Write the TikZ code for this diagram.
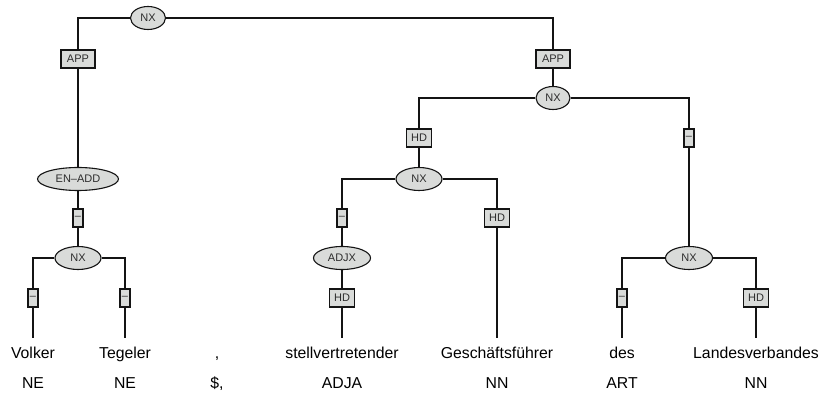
\documentclass[tikz,border=0pt]{standalone}
\usepackage{fontspec}
\setmainfont{Liberation Sans}
\usetikzlibrary{positioning,shapes.geometric,backgrounds}
\definecolor{ink}{RGB}{20,20,20}
\definecolor{lbltxt}{RGB}{45,45,45}
\definecolor{catfill}{RGB}{217,219,217}
\tikzset{
  cat/.style={ellipse,draw=ink,fill=catfill,line width=1.1pt,minimum height=23pt,
    inner sep=0pt,text=lbltxt,font=\fontsize{11}{13}\selectfont},
  fnc/.style={rectangle,draw=ink,fill=catfill,line width=1.5pt,minimum height=18pt,
    inner sep=0pt,text=lbltxt,font=\fontsize{11}{13}\selectfont},
  word/.style={anchor=north,inner xsep=2pt,inner ysep=8.5pt,text height=11.5pt,
    text depth=3.5pt,font=\fontsize{15.8}{18}\selectfont},
  postag/.style={anchor=base,inner sep=0pt,font=\fontsize{15.8}{18}\selectfont},
  br/.style={line width=1.3pt,draw=ink},
}

\begin{document}
\begin{tikzpicture}[x=1pt,y=-1pt]
\useasboundingbox (0,0) rectangle (822,398);
% inner nodes
\node[cat,minimum width=35pt] (nxtop) at (148,18) {NX};
\node[fnc,minimum width=34pt] (appL) at (78,59) {APP};
\node[cat,minimum width=81pt] (enadd) at (78,179) {EN--ADD};
\node[fnc,minimum width=10pt] (dL) at (78,218) {--};
\node[cat,minimum width=46pt] (nxL) at (78,258) {NX};
\node[fnc,minimum width=10pt] (dVo) at (33,298) {--};
\node[fnc,minimum width=10pt] (dTe) at (125,298) {--};
\node[fnc,minimum width=34pt] (appR) at (553,59) {APP};
\node[cat,minimum width=34pt] (nxR) at (553,98) {NX};
\node[fnc,minimum width=25pt] (hdM) at (419,138) {HD};
\node[cat,minimum width=46pt] (nxM) at (419,179) {NX};
\node[fnc,minimum width=10pt] (dSt) at (342,218) {--};
\node[cat,minimum width=57pt] (adjx) at (342,258) {ADJX};
\node[fnc,minimum width=25pt] (hdSt) at (342,298) {HD};
\node[fnc,minimum width=25pt] (hdGe) at (497,218) {HD};
\node[fnc,minimum width=10pt] (dDes) at (689,138) {--};
\node[cat,minimum width=47pt] (nxD) at (689,258) {NX};
\node[fnc,minimum width=10pt] (dDe) at (622,298) {--};
\node[fnc,minimum width=25pt] (hdLa) at (756,298) {HD};
% words and tags
\node[word] (w1) at (33,338) {Volker};
\node[word] (w2) at (125,338) {Tegeler};
\node[word] (w3) at (217,338) {,};
\node[word] (w4) at (342,338) {stellvertretender};
\node[word] (w5) at (497,338) {Geschäftsführer};
\node[word] (w6) at (622,338) {des};
\node[word] (w7) at (756,338) {Landesverbandes};
\node[postag] (t1) at (33,388) {NE};
\node[postag] (t2) at (125,388) {NE};
\node[postag] (t3) at (217,388) {\$,};
\node[postag] (t4) at (342,388) {ADJA};
\node[postag] (t5) at (497,388) {NN};
\node[postag] (t6) at (622,388) {ART};
\node[postag] (t7) at (756,388) {NN};
% branches
\begin{scope}[on background layer]
\draw[br] (nxtop) -| (appL);
\draw[br] (nxtop) -| (appR);
\draw[br] (appL) -- (enadd);
\draw[br] (enadd) -- (dL);
\draw[br] (dL) -- (nxL);
\draw[br] (nxL) -| (dVo);
\draw[br] (nxL) -| (dTe);
\draw[br] (dVo) -- (w1);
\draw[br] (dTe) -- (w2);
\draw[br] (appR) -- (nxR);
\draw[br] (nxR) -| (hdM);
\draw[br] (nxR) -| (dDes);
\draw[br] (hdM) -- (nxM);
\draw[br] (nxM) -| (dSt);
\draw[br] (nxM) -| (hdGe);
\draw[br] (dSt) -- (adjx);
\draw[br] (adjx) -- (hdSt);
\draw[br] (hdSt) -- (w4);
\draw[br] (hdGe) -- (w5);
\draw[br] (dDes) -- (nxD);
\draw[br] (nxD) -| (dDe);
\draw[br] (nxD) -| (hdLa);
\draw[br] (dDe) -- (w6);
\draw[br] (hdLa) -- (w7);
\end{scope}
\end{tikzpicture}
\end{document}
